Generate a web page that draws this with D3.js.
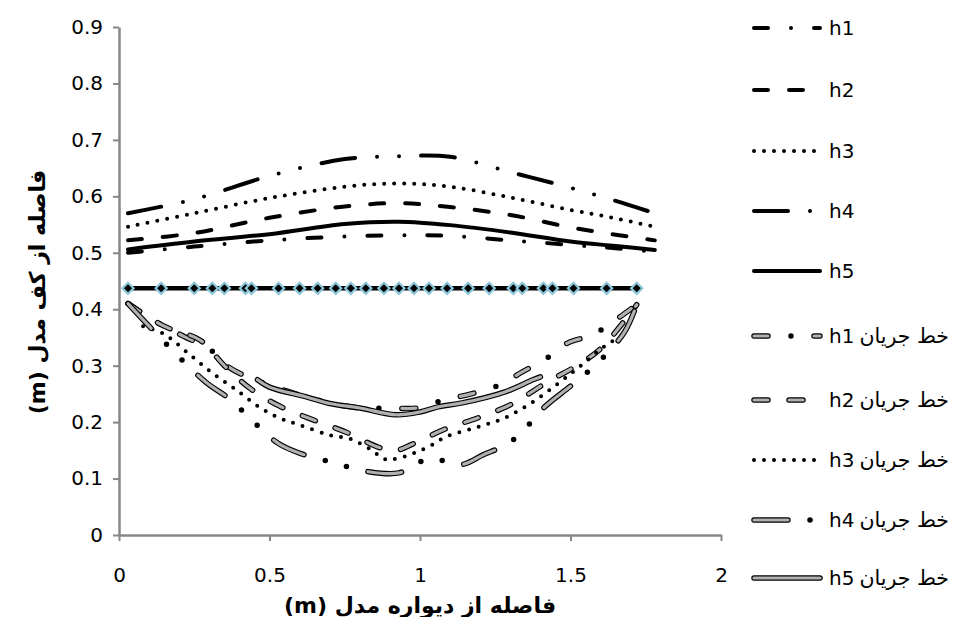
<!DOCTYPE html>
<html><head><meta charset="utf-8">
<script src="https://cdn.jsdelivr.net/npm/d3@7"></script>
<style>body{margin:0;background:#fff}svg{display:block}</style>
</head><body>
<svg id="c" width="954" height="617"></svg>
<script>
// ---------- data ----------
const xTickValues = [0, 0.5, 1, 1.5, 2];
const xTickLabels = ["0", "0.5", "1", "1.5", "2"];
const yTickValues = [0, 0.1, 0.2, 0.3, 0.4, 0.5, 0.6, 0.7, 0.8, 0.9];
const yTickLabels = ["0", "0.1", "0.2", "0.3", "0.4", "0.5", "0.6", "0.7", "0.8", "0.9"];

// water-surface profiles
const profileX = [0.03, 0.25, 0.5, 0.75, 0.93, 1.1, 1.3, 1.5, 1.65, 1.78];
const h1 = [0.500, 0.511, 0.522, 0.529, 0.531, 0.530, 0.522, 0.514, 0.508, 0.502];
const h2 = [0.522, 0.535, 0.562, 0.582, 0.588, 0.581, 0.567, 0.545, 0.532, 0.522];
const h3 = [0.546, 0.570, 0.597, 0.617, 0.623, 0.617, 0.598, 0.576, 0.561, 0.546];
const h4 = [0.570, 0.595, 0.636, 0.666, 0.671, 0.670, 0.643, 0.615, 0.592, 0.570];
const h5 = [0.506, 0.520, 0.533, 0.551, 0.555, 0.549, 0.536, 0.520, 0.512, 0.505];

// marker line (diamonds)
const markerX = [0.03, 0.14, 0.25, 0.31, 0.35, 0.42, 0.44, 0.53, 0.6, 0.66, 0.72, 0.77, 0.82, 0.88, 0.93, 0.98, 1.03, 1.09, 1.16, 1.23, 1.31, 1.34, 1.41, 1.44, 1.51, 1.62, 1.72];
const markerY = [0.437, 0.437, 0.437, 0.437, 0.437, 0.437, 0.437, 0.437, 0.437, 0.437, 0.437, 0.437, 0.437, 0.437, 0.437, 0.437, 0.437, 0.437, 0.437, 0.437, 0.437, 0.437, 0.437, 0.437, 0.437, 0.437, 0.437];

// streamlines (خط جریان)
const f1X = [0.03, 0.1, 0.215, 0.3, 0.36, 0.445, 0.53, 0.62, 0.715, 0.81, 0.9, 0.99, 1.085, 1.17, 1.26, 1.34, 1.42, 1.49, 1.575, 1.66, 1.72];
const f1Y = [0.41, 0.385, 0.352, 0.33, 0.299, 0.276, 0.26, 0.245, 0.232, 0.225, 0.225, 0.225, 0.24, 0.25, 0.265, 0.289, 0.313, 0.34, 0.355, 0.385, 0.408];
const f2X = [0.03, 0.15, 0.27, 0.35, 0.44, 0.535, 0.645, 0.755, 0.865, 0.92, 0.975, 1.085, 1.195, 1.305, 1.42, 1.52, 1.6, 1.72];
const f2Y = [0.41, 0.37, 0.345, 0.30, 0.258, 0.228, 0.204, 0.182, 0.155, 0.15, 0.161, 0.188, 0.208, 0.232, 0.27, 0.30, 0.33, 0.408];
const f3X = [0.08, 0.15, 0.23, 0.31, 0.39, 0.47, 0.535, 0.6, 0.7, 0.77, 0.84, 0.88, 0.91, 0.97, 1.03, 1.09, 1.19, 1.28, 1.37, 1.46, 1.53, 1.61, 1.69];
const f3Y = [0.37, 0.356, 0.322, 0.287, 0.257, 0.225, 0.207, 0.195, 0.177, 0.17, 0.15, 0.135, 0.134, 0.143, 0.157, 0.175, 0.191, 0.207, 0.234, 0.269, 0.298, 0.333, 0.36];
const f4X = [0.03, 0.1, 0.2, 0.29, 0.37, 0.44, 0.53, 0.6, 0.7, 0.83, 0.93, 1.03, 1.14, 1.21, 1.27, 1.33, 1.41, 1.51, 1.6, 1.68, 1.72];
const f4Y = [0.41, 0.37, 0.315, 0.27, 0.24, 0.204, 0.162, 0.145, 0.13, 0.112, 0.11, 0.135, 0.125, 0.142, 0.156, 0.177, 0.225, 0.268, 0.31, 0.36, 0.408];
const f5X = [0.46, 0.5, 0.62, 0.70, 0.80, 0.92, 1.0, 1.06, 1.14, 1.28, 1.375, 1.40];
const f5Y = [0.275, 0.262, 0.245, 0.233, 0.225, 0.213, 0.218, 0.227, 0.234, 0.253, 0.275, 0.28];

const legendCodes = ["h1", "h2", "h3", "h4", "h5", "h1", "h2", "h3", "h4", "h5"];
const legendSuffix = ["", "", "", "", "", "خط جریان", "خط جریان", "خط جریان", "خط جریان", "خط جریان"];
const xTitle = "(m)  فاصله از دیواره مدل";
const yTitle = "(m)  فاصله از کف مدل";

// ---------- styles ----------
const dashH1 = "14,23,0,23", dashH2 = "14,21", dashH3 = "0,10", dashH4 = "34,22,0,22,0,22";
const styles = [
  {type: "single", dash: dashH1},
  {type: "single", dash: dashH2},
  {type: "single", dash: dashH3},
  {type: "single", dash: dashH4},
  {type: "single", dash: null},
  {type: "double", dash: dashH1, inner: "14,46"},
  {type: "double", dash: dashH2, inner: dashH2},
  {type: "single", dash: dashH3},
  {type: "double", dash: dashH4, inner: "34,66"},
  {type: "double", dash: null, inner: null}
];

// ---------- chart ----------
const svg = d3.select("#c");
const x = d3.scaleLinear().domain([0, 2]).range([119, 721]);
const y = d3.scaleLinear().domain([0, 0.9]).range([535, 27]);
const axisColor = "#878787";
const font = "'DejaVu Sans', sans-serif";

const line = d3.line().x(d => x(d[0])).y(d => y(d[1])).curve(d3.curveCatmullRom.alpha(0.5));

function drawPath(g, pts, st, gen) {
  if (st.type === "single") {
    g.append("path").attr("d", gen(pts)).attr("fill", "none").attr("stroke", "#000")
      .attr("stroke-width", 4).attr("stroke-linecap", "round")
      .attr("stroke-dasharray", st.dash);
  } else {
    g.append("path").attr("d", gen(pts)).attr("fill", "none").attr("stroke", "#000")
      .attr("stroke-width", 5.5).attr("stroke-linecap", "round")
      .attr("stroke-dasharray", st.dash);
    g.append("path").attr("d", gen(pts)).attr("fill", "none").attr("stroke", "#b0b0b0")
      .attr("stroke-width", 3.2).attr("stroke-linecap", "round")
      .attr("stroke-dasharray", st.inner);
  }
}

// axes
const gx = svg.append("g").attr("transform", "translate(0,535)")
  .call(d3.axisBottom(x).tickValues(xTickValues).tickFormat((d, i) => xTickLabels[i]).tickSize(6).tickSizeOuter(0).tickPadding(27));
const gy = svg.append("g").attr("transform", "translate(119,0)")
  .call(d3.axisLeft(y).tickValues(yTickValues).tickFormat((d, i) => yTickLabels[i]).tickSize(6).tickSizeOuter(0).tickPadding(10));
[gx, gy].forEach(g => {
  g.select(".domain").attr("stroke", axisColor).attr("stroke-width", 2.5);
  g.selectAll(".tick line").attr("stroke", axisColor).attr("stroke-width", 2);
  g.selectAll(".tick text").attr("fill", "#000").style("font-family", font).style("font-size", "20px");
});

const plot = svg.append("g");
const profiles = [h1, h2, h3, h4, h5];
profiles.forEach((s, i) => drawPath(plot, profileX.map((v, j) => [v, s[j]]), styles[i], line));

const flows = [[f1X, f1Y], [f2X, f2Y], [f3X, f3Y], [f4X, f4Y], [f5X, f5Y]];
flows.forEach((f, i) => drawPath(plot, f[0].map((v, j) => [v, f[1][j]]), styles[5 + i], line));

// marker line
const mpts = markerX.map((v, j) => [v, markerY[j]]);
plot.append("path").attr("d", d3.line().x(d => x(d[0])).y(d => y(d[1]))(mpts))
  .attr("fill", "none").attr("stroke", "#000").attr("stroke-width", 4.5);
plot.selectAll(".mk").data(mpts).join("path").attr("class", "mk")
  .attr("d", d3.symbol(d3.symbolSquare, 62)())
  .attr("transform", d => `translate(${x(d[0])},${y(d[1])}) rotate(45)`)
  .attr("fill", "#000").attr("stroke", "#8cc6da").attr("stroke-width", 2.2);

// legend
const legendRows = [28, 90, 151, 211, 271, 336, 400, 460, 520, 578];
const lg = svg.append("g");
legendCodes.forEach((code, i) => {
  const yy = legendRows[i];
  drawPath(lg, [[754, yy], [820, yy]], styles[i], d3.line());
  const t = lg.append("text").attr("x", 829).attr("y", yy).attr("dy", "0.35em")
    .style("font-family", font).style("font-size", "20px").attr("fill", "#000");
  t.append("tspan").text(code);
  if (legendSuffix[i]) t.append("tspan").attr("dx", 5).style("font-size", "20.5px").text(legendSuffix[i]);
});

// axis titles
svg.append("text").attr("x", 420).attr("y", 605).attr("text-anchor", "middle").attr("dy", "0.35em")
  .style("font-family", font).style("font-size", "22px").style("font-weight", "bold").text(xTitle);
svg.append("text").attr("transform", "translate(37,292) rotate(-90)").attr("text-anchor", "middle").attr("dy", "0.35em")
  .style("font-family", font).style("font-size", "22px").style("font-weight", "bold").text(yTitle);
</script>
</body></html>
